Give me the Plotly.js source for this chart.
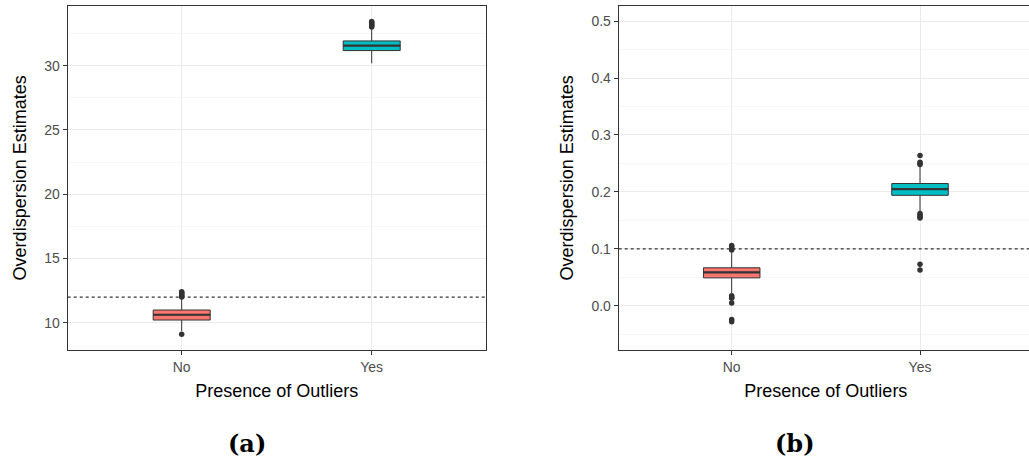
<!DOCTYPE html>
<html>
<head>
<meta charset="utf-8">
<script src="https://cdn.plot.ly/plotly-3.0.1.min.js"></script>
<style>
html,body{margin:0;padding:0;overflow:hidden;background:#fff;}
#chart{width:1040px;height:461px;}
</style>
</head>
<body>
<div id="chart"></div>
<script>
// ---- data ----
const categories = ['No', 'Yes'];
const fillColors = ['#F8766D', '#00BFC4'];

// Panel (a)
const a_q1 = [10.21, 31.17];
const a_median = [10.62, 31.55];
const a_q3 = [10.99, 31.92];
const a_lowerfence = [9.35, 30.18];
const a_upperfence = [11.92, 32.9];
const a_outliers_no = [9.1, 12.0, 12.08, 12.16, 12.25, 12.33, 12.42];
const a_outliers_yes = [33.0, 33.1, 33.18, 33.26, 33.35, 33.43];
const a_threshold = 12;

// Panel (b)
const b_q1 = [0.049, 0.194];
const b_median = [0.0586, 0.2047];
const b_q3 = [0.0667, 0.2147];
const b_lowerfence = [0.022, 0.165];
const b_upperfence = [0.094, 0.245];
const b_outliers_no = [0.098, 0.100, 0.103, 0.106, 0.0175, 0.015, 0.013, 0.005, -0.024, -0.028];
const b_outliers_yes = [0.248, 0.250, 0.252, 0.264, 0.162, 0.159, 0.156, 0.154, 0.073, 0.063];
const b_threshold = 0.1;

const panelLabels = ['(a)', '(b)'];

// ---- build ----
const boxWidth = 0.3;
const traces = [];
function addPanel(xa, ya, q1, med, q3, lf, uf, outs) {
  categories.forEach((c, i) => {
    traces.push({
      type: 'box', x: [i], q1: [q1[i]], median: [med[i]], q3: [q3[i]],
      lowerfence: [lf[i]], upperfence: [uf[i]],
      width: boxWidth, whiskerwidth: 0, boxpoints: false,
      fillcolor: fillColors[i], line: {color: '#333333', width: 1},
      xaxis: xa, yaxis: ya, showlegend: false, hoverinfo: 'skip'
    });
    traces.push({
      type: 'scatter', mode: 'lines',
      x: [i - boxWidth / 2, i + boxWidth / 2], y: [med[i], med[i]],
      line: {color: '#333333', width: 2.2},
      xaxis: xa, yaxis: ya, showlegend: false, hoverinfo: 'skip'
    });
    traces.push({
      type: 'scatter', mode: 'markers',
      x: outs[i].map(() => i), y: outs[i],
      marker: {color: '#333333', size: 5.5},
      xaxis: xa, yaxis: ya, showlegend: false, hoverinfo: 'skip'
    });
  });
}
addPanel('x', 'y', a_q1, a_median, a_q3, a_lowerfence, a_upperfence, [a_outliers_no, a_outliers_yes]);
addPanel('x2', 'y2', b_q1, b_median, b_q3, b_lowerfence, b_upperfence, [b_outliers_no, b_outliers_yes]);

const W = 1040, H = 461;
const tickFont = {family: 'Liberation Sans, Arial, sans-serif', size: 14, color: '#4d4d4d'};
const titleFont = {family: 'Liberation Sans, Arial, sans-serif', size: 18, color: '#000000'};

function xAxis(domain) {
  return {
    domain: domain, range: [-0.6, 1.6], tickvals: [0, 1], ticktext: categories,
    showline: true, mirror: true, linecolor: '#333333', linewidth: 1,
    ticks: 'outside', ticklen: 4, tickcolor: '#333333', tickwidth: 1,
    showgrid: true, gridcolor: '#ebebeb', gridwidth: 1, zeroline: false,
    tickfont: tickFont,
    title: {text: 'Presence of Outliers', font: titleFont, standoff: 10}
  };
}
function yAxis(range, dtick, anchor, fmt) {
  return {
    domain: [1 - 350 / H, 1 - 5.7 / H], range: range, dtick: dtick, anchor: anchor,
    tickformat: fmt,
    showline: true, mirror: true, linecolor: '#333333', linewidth: 1,
    ticks: 'outside', ticklen: 4, tickcolor: '#333333', tickwidth: 1,
    showgrid: true, gridcolor: '#ebebeb', gridwidth: 1, zeroline: false,
    minor: {dtick: dtick / 2, showgrid: true, gridcolor: '#f2f2f2', gridwidth: 0.6, ticks: ''},
    tickfont: tickFont,
    title: {text: 'Overdispersion Estimates', font: titleFont, standoff: 13}
  };
}

const layout = {
  width: W, height: H,
  margin: {l: 0, r: 0, t: 0, b: 0},
  paper_bgcolor: '#ffffff', plot_bgcolor: '#ffffff',
  xaxis: Object.assign(xAxis([67.7 / W, 485.7 / W]), {anchor: 'y'}),
  yaxis: yAxis([7.88, 34.66], 5, 'x', 'd'),
  xaxis2: Object.assign(xAxis([618.7 / W, 1033 / W]), {anchor: 'y2'}),
  yaxis2: yAxis([-0.0777, 0.527], 0.1, 'x2', '.1f'),
  shapes: [
    {type: 'line', xref: 'x domain', yref: 'y', x0: 0, x1: 1, y0: a_threshold, y1: a_threshold,
     line: {color: '#333333', width: 1.2, dash: 'dot'}, layer: 'above'},
    {type: 'line', xref: 'x2 domain', yref: 'y2', x0: 0, x1: 1, y0: b_threshold, y1: b_threshold,
     line: {color: '#333333', width: 1.2, dash: 'dot'}, layer: 'above'}
  ],
  annotations: [
    {text: '<b>' + panelLabels[0] + '</b>', xref: 'paper', yref: 'paper', x: 247 / W, y: 1 - 443 / H,
     xanchor: 'center', yanchor: 'middle', showarrow: false,
     font: {family: 'DejaVu Serif, serif', size: 24, color: '#000'}},
    {text: '<b>' + panelLabels[1] + '</b>', xref: 'paper', yref: 'paper', x: 795 / W, y: 1 - 443 / H,
     xanchor: 'center', yanchor: 'middle', showarrow: false,
     font: {family: 'DejaVu Serif, serif', size: 24, color: '#000'}}
  ]
};

Plotly.newPlot('chart', traces, layout, {displayModeBar: false, staticPlot: true});
</script>
</body>
</html>
